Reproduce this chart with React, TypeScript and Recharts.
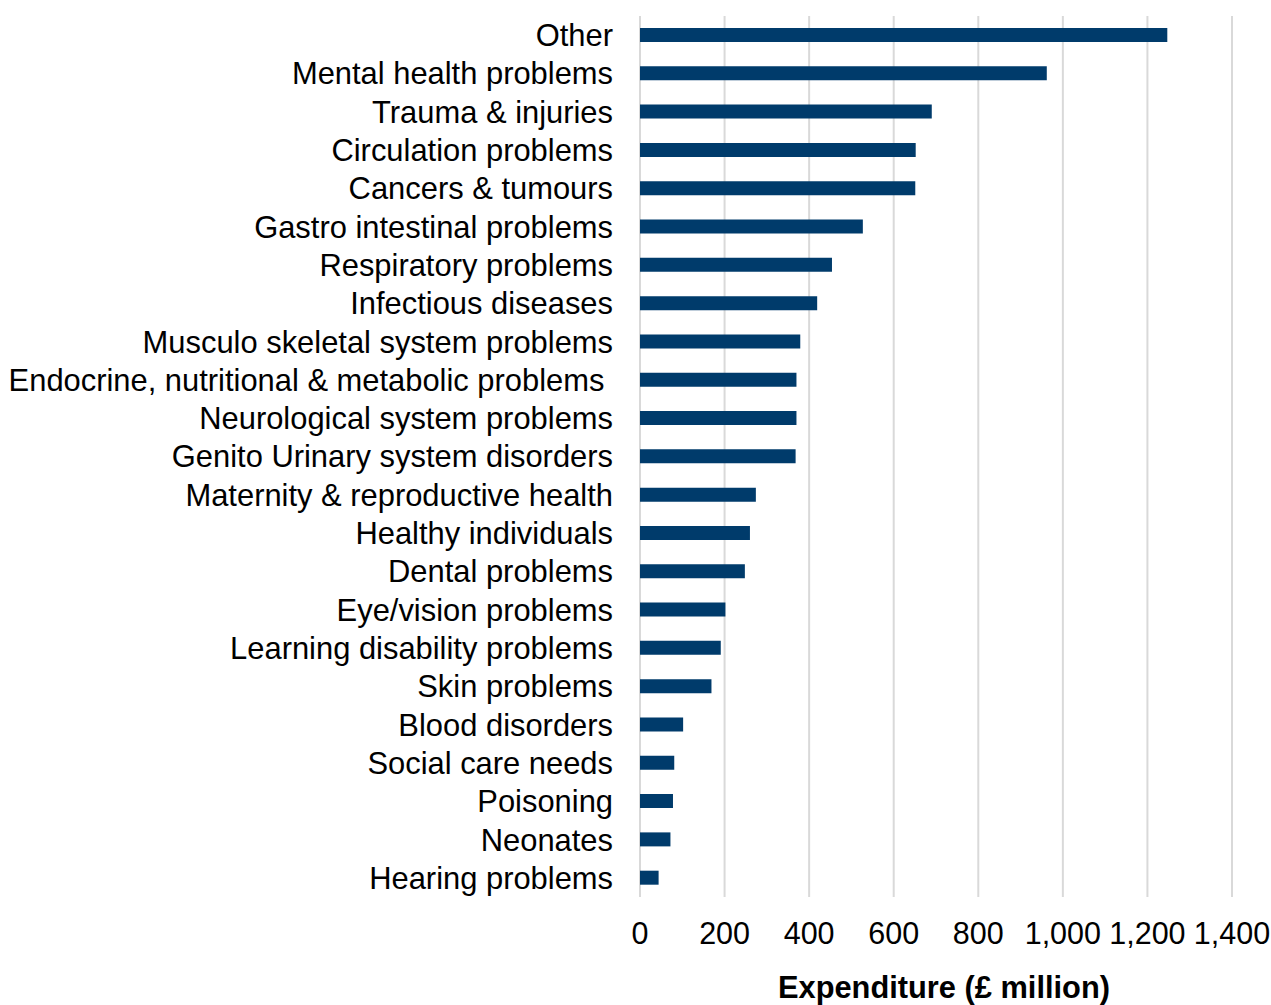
import React from 'react';
import { BarChart, Bar, XAxis, YAxis, CartesianGrid, Label } from 'recharts';

const categories = [
  'Other',
  'Mental health problems',
  'Trauma & injuries',
  'Circulation problems',
  'Cancers & tumours',
  'Gastro intestinal problems',
  'Respiratory problems',
  'Infectious diseases',
  'Musculo skeletal system problems',
  'Endocrine, nutritional & metabolic problems ',
  'Neurological system problems',
  'Genito Urinary system disorders',
  'Maternity & reproductive health',
  'Healthy individuals',
  'Dental problems',
  'Eye/vision problems',
  'Learning disability problems',
  'Skin problems',
  'Blood disorders',
  'Social care needs',
  'Poisoning',
  'Neonates',
  'Hearing problems',
];

const expenditure = [
  1247, 962, 690, 652, 651, 527, 454, 419, 379, 370, 370, 368, 274, 260, 248, 202, 191, 169, 102, 81, 78, 72, 44,
];

const xTicks = [0, 200, 400, 600, 800, 1000, 1200, 1400];

const data = categories.map((name, i) => ({ name, value: expenditure[i] }));

const FONT = '"Liberation Sans", Arial, sans-serif';
const FS = 30.5;
const CAT_FS = 30.9;

const CategoryTick = (props: any) => {
  const { x, y, payload } = props;
  return (
    <text
      x={x}
      y={y}
      dy="0.355em"
      textAnchor="end"
      fontSize={CAT_FS}
      fontFamily={FONT}
      fill="#000"
      xmlSpace="preserve"
      style={{ whiteSpace: 'pre' }}
    >
      {payload.value}
    </text>
  );
};

const fmt = (v: number) => v.toLocaleString('en-GB');

export default function App() {
  return (
    <div style={{ position: 'absolute', left: 0, top: 0, background: '#fff' }}>
      <BarChart
        width={1271}
        height={1005}
        data={data}
        layout="vertical"
        margin={{ top: 16, right: 39, left: 0, bottom: 0 }}
        barCategoryGap={0}
      >
        <CartesianGrid horizontal={false} stroke="#d9d9d9" strokeWidth={2} />
        <XAxis
          type="number"
          domain={[0, 1400]}
          ticks={xTicks}
          tickFormatter={fmt}
          axisLine={false}
          tickLine={false}
          tickSize={0}
          tickMargin={25}
          height={108}
          interval={0}
          tick={{ fontSize: FS, fill: '#000', fontFamily: FONT }}
        >
          <Label
            value="Expenditure (£ million)"
            position="insideBottom"
            offset={7}
            dx={8}
            style={{ fontSize: 30.8, fontWeight: 'bold', fill: '#000', fontFamily: FONT }}
          />
        </XAxis>
        <YAxis
          type="category"
          dataKey="name"
          width={640}
          axisLine={false}
          tickLine={false}
          tickSize={0}
          tickMargin={27}
          interval={0}
          tick={<CategoryTick />}
        />
        <Bar dataKey="value" fill="#003b6b" barSize={14} isAnimationActive={false} />
      </BarChart>
    </div>
  );
}
